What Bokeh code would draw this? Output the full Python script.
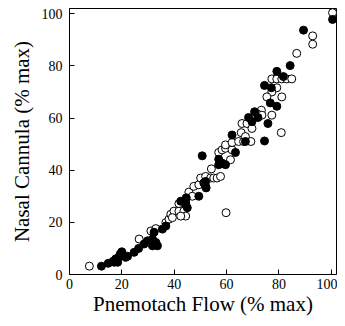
from bokeh.plotting import figure
from bokeh.models import Range1d, FixedTicker
from bokeh.embed import file_html
from bokeh.resources import INLINE

# Filled circles
filled_x = [12.2, 14.8, 16.7, 17.7, 17.1, 18.8, 19.4, 20.0, 20.7, 21.5, 22.2, 18.4, 24.7, 26.4,
            28.5, 29.8, 31.7, 33.0, 31.7, 33.6, 32.3, 35.5, 36.8,
            44.4, 45.0, 44.6, 44.4, 42.5, 49.4, 52.0, 52.0, 51.3, 52.2, 50.7,
            57.0, 59.6, 57.0, 58.3, 62.1, 63.4, 67.2, 74.5, 70.7, 68.4, 72.0, 69.7,
            75.8, 76.7, 79.2, 74.5, 77.1, 79.2, 81.7, 84.3, 89.4, 100.5]
filled_y = [3.2, 4.3, 5.1, 6.0, 4.7, 6.6, 7.9, 8.7, 7.2, 6.6, 7.0, 4.7, 8.5, 10.0,
            11.7, 12.9, 13.6, 12.3, 11.0, 11.0, 16.2, 17.4, 18.6,
            26.9, 25.6, 29.4, 27.5, 28.1, 30.0, 35.7, 33.8, 35.1, 33.2, 45.5,
            44.2, 42.1, 42.1, 42.7, 53.5, 46.8, 51.0, 51.2, 62.4, 60.2, 60.2, 58.6,
            57.9, 65.8, 64.5, 72.5, 71.6, 77.9, 75.9, 80.1, 93.7, 97.8]

# Open circles
open_x = [7.6, 26.6, 31.1, 33.0, 36.8, 38.0, 38.7, 39.9, 41.8, 43.7, 44.4, 42.5, 39.3, 41.8,
          45.6, 46.9, 47.5, 49.4, 50.1, 52.0, 53.9, 55.1, 56.4, 57.7, 54.2, 59.8,
          57.0, 58.3, 59.6, 61.5, 62.1, 59.6, 62.1, 64.6, 66.5, 69.3, 65.6, 67.2,
          65.9, 67.8, 69.7, 80.9, 73.3, 71.6, 73.5, 77.3, 79.2, 77.3, 75.4, 81.1,
          77.3, 79.2, 81.1, 83.0, 84.9, 86.8, 92.9, 92.9, 100.5]
open_y = [3.2, 13.6, 16.7, 17.6, 19.9, 21.2, 23.1, 24.3, 24.3, 24.3, 22.4, 22.4, 21.8, 27.2,
          31.6, 30.0, 33.8, 34.4, 37.0, 37.6, 37.0, 37.0, 37.0, 37.6, 40.5, 23.7,
          46.8, 47.8, 48.4, 44.0, 47.8, 49.7, 50.6, 51.0, 51.0, 51.0, 54.4, 52.9,
          57.9, 57.9, 56.0, 54.4, 63.0, 61.7, 61.1, 61.1, 71.6, 70.0, 68.1, 68.1,
          75.0, 75.0, 75.0, 75.0, 75.0, 84.8, 91.5, 88.3, 100.4]

ticks = [0, 20, 40, 60, 80, 100]

p = figure(width=337, height=318, output_backend="svg", toolbar_location=None,
           x_range=Range1d(0, 102), y_range=Range1d(0, 102),
           min_border_left=69, min_border_right=1, min_border_top=8, min_border_bottom=42)
p.grid.visible = False
p.outline_line_color = "black"
p.outline_line_width = 1
p.background_fill_color = "white"
p.border_fill_color = "white"

for ax in (p.xaxis[0], p.yaxis[0]):
    ax.ticker = FixedTicker(ticks=ticks)
    ax.major_tick_in = 5
    ax.major_tick_out = 0
    ax.minor_tick_line_color = None
    ax.axis_line_color = "black"
    ax.major_label_text_font = "Liberation Serif"
    ax.major_label_text_font_size = "14px"
    ax.major_label_text_color = "black"
    ax.axis_label_text_font = "Liberation Serif"
    ax.axis_label_text_font_size = "21px"
    ax.axis_label_text_font_style = "normal"
    ax.axis_label_text_color = "black"

p.xaxis.axis_label = "Pnemotach Flow (% max)"
p.yaxis.axis_label = "Nasal Cannula (% max)"
p.xaxis.major_label_standoff = 4
p.yaxis.major_label_standoff = 7
p.xaxis.axis_label_standoff = 0
p.yaxis.axis_label_standoff = 5

p.scatter(open_x, open_y, size=8, marker="circle", fill_color="white",
          line_color="black", line_width=1)
p.scatter(filled_x, filled_y, size=8, marker="circle", fill_color="black",
          line_color="black", line_width=1)

open("out.html", "w").write(file_html(p, INLINE))
